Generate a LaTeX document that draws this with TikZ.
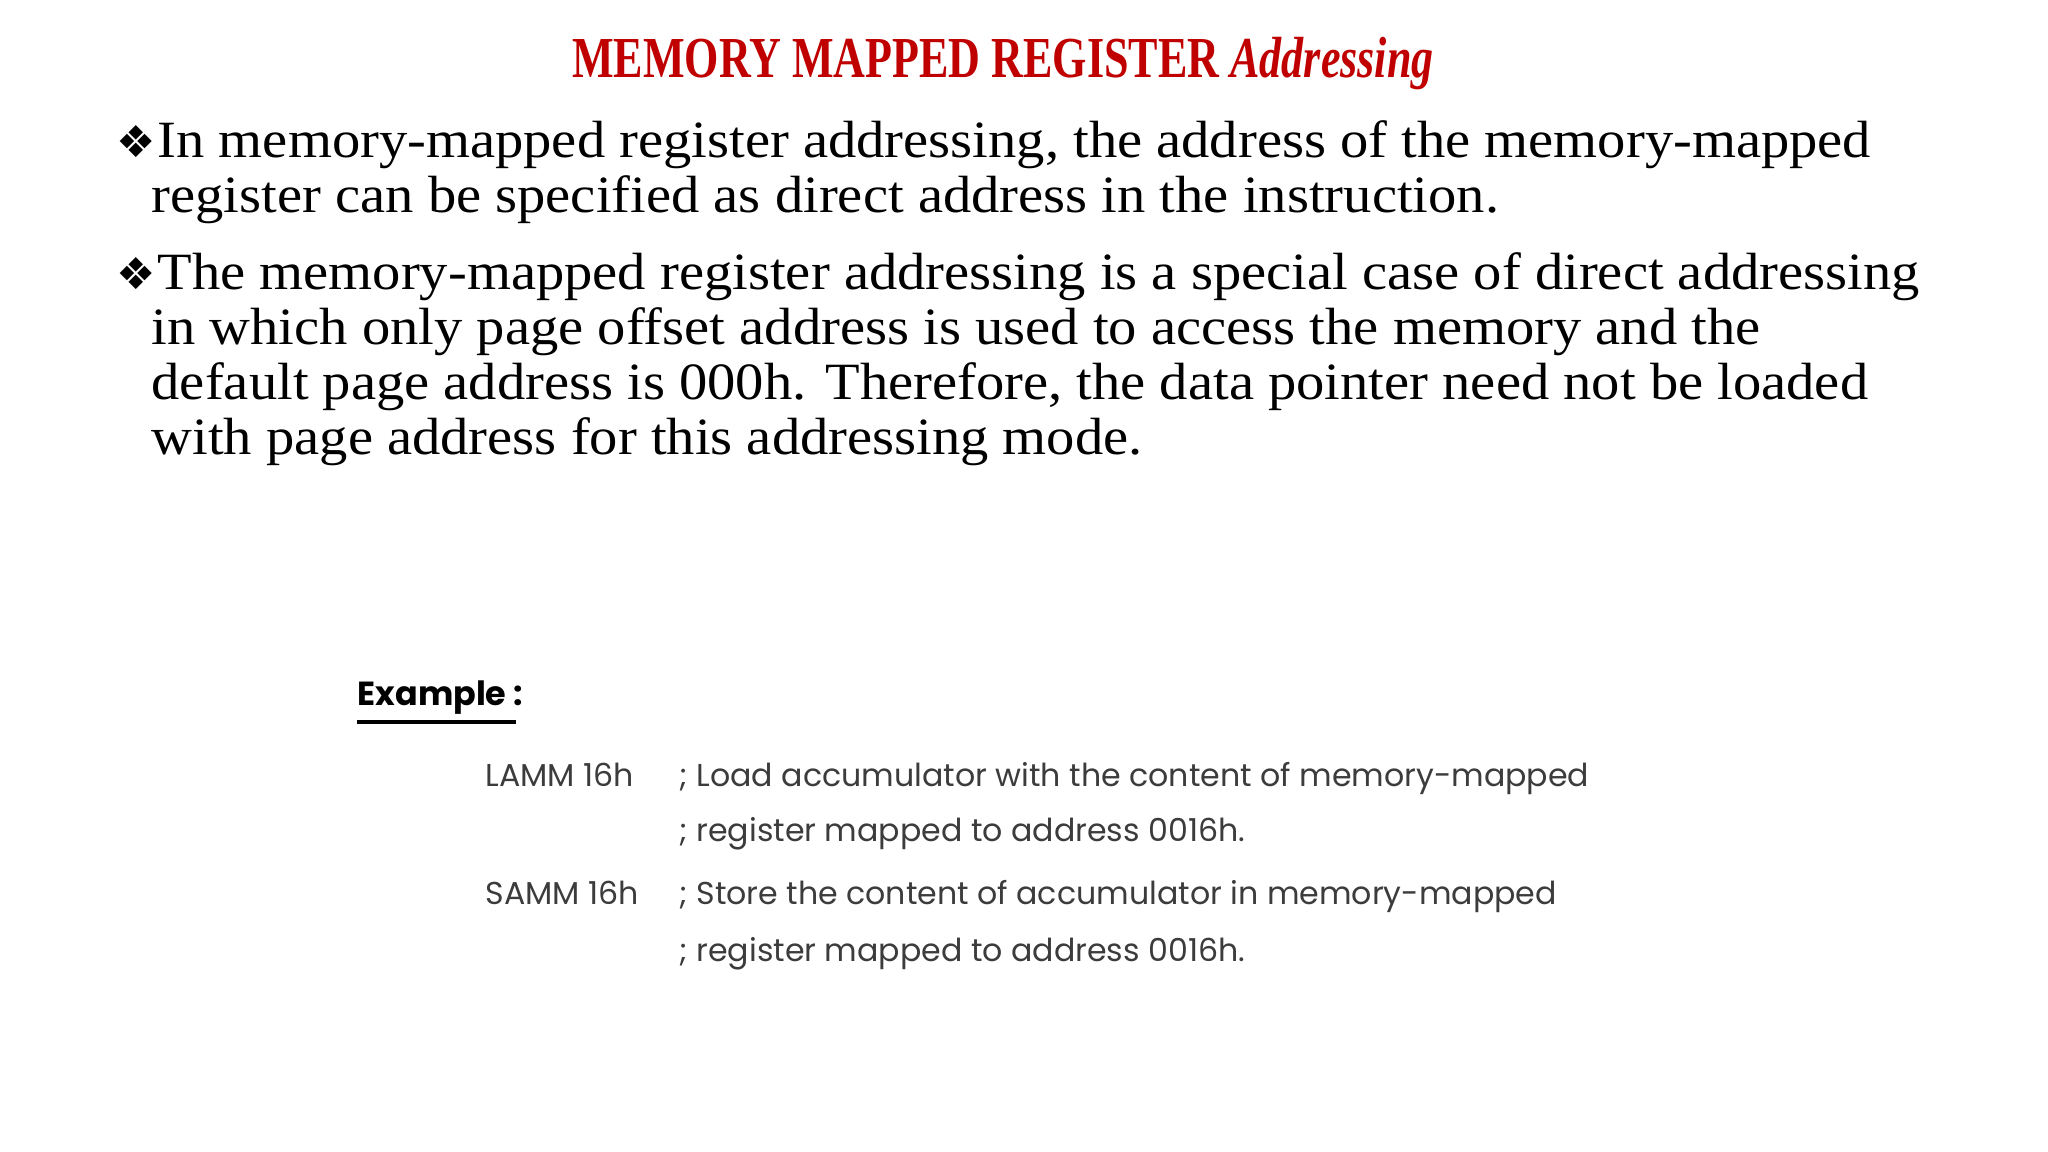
\documentclass[tikz,border=0pt]{standalone}
\usepackage{fontspec}
\setmainfont{Liberation Serif}
\newfontfamily\bodyfont[FakeStretch=1.08]{Liberation Serif}
\newfontfamily\titlefont[FakeStretch=0.76]{Liberation Serif}
\newfontfamily\symfont{DejaVu Sans}
\newfontfamily\exfont{Poppins}
\definecolor{titlered}{RGB}{192,0,0}
\definecolor{exgray}{RGB}{60,60,60}
\tikzset{
  body/.style={anchor=base west,inner sep=0pt,font=\bodyfont\fontsize{14.9}{18}\selectfont},
  bul/.style={anchor=base west,inner sep=0pt,font=\symfont\fontsize{12.5}{15}\selectfont},
  ex/.style={anchor=base west,inner sep=0pt,text=exgray,font=\exfont\fontsize{9}{11}\selectfont}
}
\begin{document}
\begin{tikzpicture}
\useasboundingbox[fill=white] (0,0) rectangle (20.48,-11.52);
\node[anchor=base,inner sep=0pt,text=titlered,font=\titlefont\bfseries\fontsize{16.5}{20}\selectfont] (title) at (10.03,-0.78) {MEMORY MAPPED REGISTER \textit{Addressing}};
\node[bul] (b1) at (1.16,-1.58) {❖};
\node[body] (l1) at (1.57,-1.58) {In memory-mapped register addressing, the address of the memory-mapped};
\node[body] (l2) at (1.51,-2.13) {register can be specified as direct address in the instruction.};
\node[bul] (b2) at (1.16,-2.90) {❖};
\node[body] (l3) at (1.57,-2.90) {The memory-mapped register addressing is a special case of direct addressing};
\node[body] (l4) at (1.51,-3.45) {in which only page offset address is used to access the memory and the};
\node[body] (l5) at (1.51,-4.00) {default page address is 000h. Therefore, the data pointer need not be loaded};
\node[body] (l6) at (1.51,-4.55) {with page address for this addressing mode.};
\node[ex,text=black,font=\exfont\bfseries\fontsize{9.5}{11}\selectfont] (exh) at (3.57,-7.06) {Example :};
\draw[line width=1pt] (3.57,-7.22) -- (5.16,-7.22);
\node[ex] (c1) at (4.85,-7.86) {LAMM 16h};
\node[ex] (d1) at (6.79,-7.86) {; Load accumulator with the content of memory-mapped};
\node[ex] (d2) at (6.79,-8.42) {; register mapped to address 0016h.};
\node[ex] (c2) at (4.85,-9.04) {SAMM 16h};
\node[ex] (d3) at (6.79,-9.04) {; Store the content of accumulator in memory-mapped};
\node[ex] (d4) at (6.79,-9.61) {; register mapped to address 0016h.};
\end{tikzpicture}
\end{document}
